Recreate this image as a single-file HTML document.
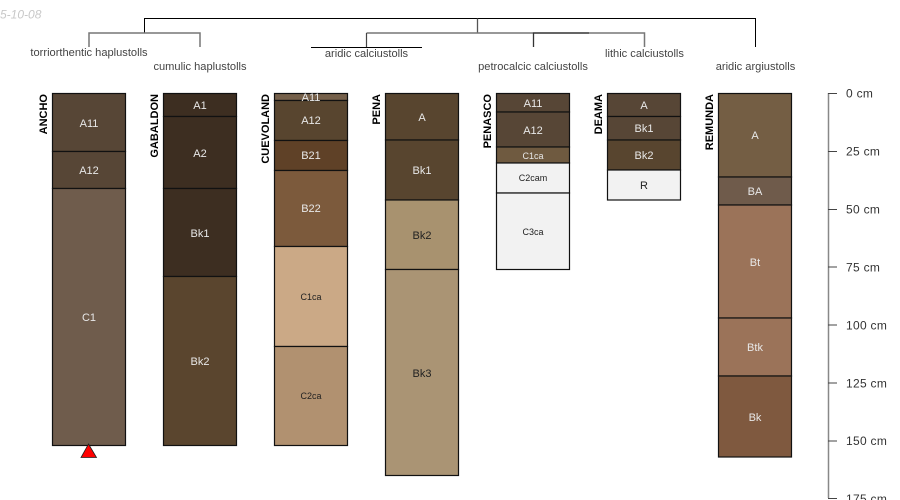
<!DOCTYPE html>
<html><head><meta charset="utf-8"><style>
html,body{margin:0;padding:0;background:#fff;width:900px;height:500px;overflow:hidden}
svg{display:block}
text{font-family:"Liberation Sans",sans-serif}
.h{font-size:11px;text-anchor:middle;fill:#e8e8e8}
.d{font-size:11px;text-anchor:middle;fill:#222}
.s{font-size:9px}
.t{font-size:11.1px;fill:#444;text-anchor:middle}
.n{font-size:11px;font-weight:bold;fill:#000;text-anchor:end}
.a{font-size:12px;fill:#333;letter-spacing:.3px}
rect{stroke:#111;stroke-width:1.2}
</style></head><body>
<svg width="900" height="500" viewBox="0 0 900 500" xmlns="http://www.w3.org/2000/svg">
<text x="0" y="18.5" font-size="12" font-style="italic" fill="#c8c8c8">5-10-08</text>

<g fill="none" stroke-width="1">
<path d="M144.5 33V18.5H755.5V47" stroke="#000"/>
<path d="M477.5 18.5V33" stroke="#555" stroke-width="1.3"/>
<path d="M89 47V33H200V47" stroke="#777" stroke-width="1.5"/>
<path d="M366.5 33H644.5V47" stroke="#777" stroke-width="1.5"/>
<path d="M366.5 33V47" stroke="#444" stroke-width="1.2"/>
<path d="M311 47.5H422" stroke="#000"/>
<path d="M533.5 47V33H589" stroke="#333" stroke-width="1.3"/>
</g>
<text class="t" x="89" y="56">torriorthentic haplustolls</text>
<text class="t" x="200" y="70">cumulic haplustolls</text>
<text class="t" x="366.5" y="57">aridic calciustolls</text>
<text class="t" x="533" y="70">petrocalcic calciustolls</text>
<text class="t" x="644.5" y="57">lithic calciustolls</text>
<text class="t" x="755.5" y="70">aridic argiustolls</text>

<!-- ANCHO -->
<rect x="52.5" y="93.5" width="73" height="58" fill="#574636"/>
<rect x="52.5" y="151.5" width="73" height="37" fill="#574636"/>
<rect x="52.5" y="188.5" width="73" height="257" fill="#6f5c4c"/>
<text class="h" x="89" y="127">A11</text><text class="h" x="89" y="174">A12</text><text class="h" x="89" y="321">C1</text>
<text class="n" transform="translate(47,94) rotate(-90)">ANCHO</text>
<polygon points="88.5,444 96.5,457.5 81,457.5" fill="#f00" stroke="#222" stroke-width="0.8"/>

<!-- GABALDON -->
<rect x="163.5" y="93.5" width="73" height="23" fill="#3d2e21"/>
<rect x="163.5" y="116.5" width="73" height="72" fill="#3d2e21"/>
<rect x="163.5" y="188.5" width="73" height="88" fill="#3d2e21"/>
<rect x="163.5" y="276.5" width="73" height="169" fill="#5a452e"/>
<text class="h" x="200" y="109">A1</text><text class="h" x="200" y="157">A2</text><text class="h" x="200" y="237">Bk1</text><text class="h" x="200" y="365">Bk2</text>
<text class="n" transform="translate(158,94) rotate(-90)">GABALDON</text>

<!-- CUEVOLAND -->
<rect x="274.5" y="93.5" width="73" height="7" fill="#75604a"/>
<rect x="274.5" y="100.5" width="73" height="40" fill="#58452f"/>
<rect x="274.5" y="140.5" width="73" height="30" fill="#5f4127"/>
<rect x="274.5" y="170.5" width="73" height="76" fill="#7c5a3c"/>
<rect x="274.5" y="246.5" width="73" height="100" fill="#cba986"/>
<rect x="274.5" y="346.5" width="73" height="99" fill="#b19170"/>
<text class="h" x="311" y="101">A11</text><text class="h" x="311" y="124">A12</text><text class="h" x="311" y="159">B21</text><text class="h" x="311" y="212">B22</text>
<text class="d s" x="311" y="300">C1ca</text><text class="d s" x="311" y="399">C2ca</text>
<text class="n" transform="translate(269,94) rotate(-90)">CUEVOLAND</text>

<!-- PENA -->
<rect x="385.5" y="93.5" width="73" height="46.5" fill="#58452f"/>
<rect x="385.5" y="140" width="73" height="60" fill="#58452f"/>
<rect x="385.5" y="200" width="73" height="69.5" fill="#a8926f"/>
<rect x="385.5" y="269.5" width="73" height="206" fill="#aa9474"/>
<text class="h" x="422" y="121">A</text><text class="h" x="422" y="174">Bk1</text><text class="d" x="422" y="239">Bk2</text><text class="d" x="422" y="377">Bk3</text>
<text class="n" transform="translate(380,94) rotate(-90)">PENA</text>

<!-- PENASCO -->
<rect x="496.5" y="93.5" width="73" height="18.5" fill="#574636"/>
<rect x="496.5" y="112" width="73" height="35" fill="#574636"/>
<rect x="496.5" y="147" width="73" height="16" fill="#6f5a40"/>
<rect x="496.5" y="163" width="73" height="30" fill="#f2f2f2"/>
<rect x="496.5" y="193" width="73" height="76.5" fill="#f2f2f2"/>
<text class="h" x="533" y="107">A11</text><text class="h" x="533" y="134">A12</text><text class="h s" x="533" y="159">C1ca</text><text class="d s" x="533" y="181">C2cam</text><text class="d s" x="533" y="235">C3ca</text>
<text class="n" transform="translate(491,94) rotate(-90)">PENASCO</text>

<!-- DEAMA -->
<rect x="607.5" y="93.5" width="73" height="23" fill="#574636"/>
<rect x="607.5" y="116.5" width="73" height="23.5" fill="#574636"/>
<rect x="607.5" y="140" width="73" height="30" fill="#58452f"/>
<rect x="607.5" y="170" width="73" height="30" fill="#f2f2f2"/>
<text class="h" x="644" y="109">A</text><text class="h" x="644" y="132">Bk1</text><text class="h" x="644" y="159">Bk2</text><text class="d" x="644" y="189">R</text>
<text class="n" transform="translate(602,94) rotate(-90)">DEAMA</text>

<!-- REMUNDA -->
<rect x="718.5" y="93.5" width="73" height="83.5" fill="#745e44"/>
<rect x="718.5" y="177" width="73" height="28" fill="#6f5b4b"/>
<rect x="718.5" y="205" width="73" height="113" fill="#9b7359"/>
<rect x="718.5" y="318" width="73" height="58" fill="#9b7359"/>
<rect x="718.5" y="376" width="73" height="81" fill="#7f593f"/>
<text class="h" x="755" y="139">A</text><text class="h" x="755" y="195">BA</text><text class="h" x="755" y="266">Bt</text><text class="h" x="755" y="351">Btk</text><text class="h" x="755" y="421">Bk</text>
<text class="n" transform="translate(713,94) rotate(-90)">REMUNDA</text>

<!-- scale -->
<path d="M828.5 93V498" stroke="#888" stroke-width="1.5" fill="none"/>
<path d="M828 93.5H837M828 151.5H837M828 209.5H837M828 267H837M828 325H837M828 383H837M828 441H837M828 498.5H837" stroke="#444" stroke-width="1" fill="none"/>
<text class="a" x="846" y="97.5">0 cm</text>
<text class="a" x="846" y="155.5">25 cm</text>
<text class="a" x="846" y="213.5">50 cm</text>
<text class="a" x="846" y="271.5">75 cm</text>
<text class="a" x="846" y="329.5">100 cm</text>
<text class="a" x="846" y="387.5">125 cm</text>
<text class="a" x="846" y="445">150 cm</text>
<text class="a" x="846" y="503">175 cm</text>
</svg>
</body></html>
